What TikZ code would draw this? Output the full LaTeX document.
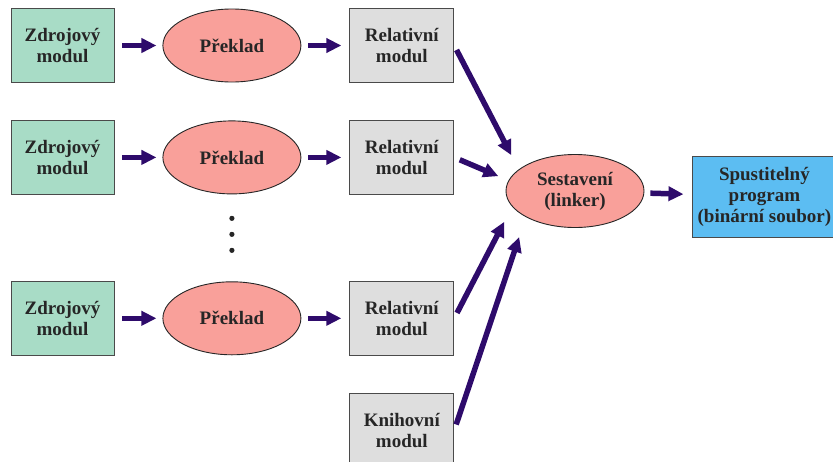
\documentclass[tikz,border=0pt]{standalone}
\usepackage{fontspec}
\setmainfont{Liberation Serif}
\usepackage{xcolor}
\usepackage{tikz}
\usetikzlibrary{positioning, arrows.meta, shapes.geometric, calc}
\definecolor{srcfill}{HTML}{A8DCC6}
\definecolor{trfill}{HTML}{F9A09A}
\definecolor{objfill}{HTML}{DEDEDE}
\definecolor{exefill}{HTML}{5CBDF2}
\definecolor{edge}{HTML}{4A4A4A}
\definecolor{arrowc}{HTML}{2E0B6B}
\definecolor{ink}{HTML}{262626}
\tikzset{
  lbl/.style     = {font=\fontsize{19}{21}\selectfont\bfseries, text=ink, align=center},
  src/.style     = {lbl, rectangle, draw=edge, line width=0.9pt, fill=srcfill,
                    minimum width=103pt, minimum height=74pt},
  obj/.style     = {lbl, rectangle, draw=edge, line width=0.9pt, fill=objfill,
                    minimum width=104pt, minimum height=74pt},
  trans/.style   = {lbl, ellipse, draw=ink, line width=0.9pt, fill=trfill,
                    minimum width=138pt, minimum height=73pt, inner sep=0pt},
  exe/.style     = {lbl, rectangle, draw=edge, line width=0.9pt, fill=exefill,
                    minimum width=143pt, minimum height=81pt},
  arr/.style     = {-{Triangle[length=15pt,width=14pt]}, line width=5.5pt, draw=arrowc},
}

\begin{document}
\begin{tikzpicture}[x=1pt, y=-1pt, node distance=37pt and 48pt]

  \useasboundingbox (0,0) rectangle (833,461);

  % sources and their translation
  \node[src]                       (z1) at (62.5,45.5) {Zdrojový\\modul};
  \node[src, below=of z1]          (z2) {Zdrojový\\modul};
  \node[src, below=86pt of z2]     (z3) {Zdrojový\\modul};

  \node[trans, right=of z1]        (p1) {Překlad};
  \node[trans, right=of z2]        (p2) {Překlad};
  \node[trans, right=of z3]        (p3) {Překlad};

  \node[obj, right=of p1]          (r1) {Relativní\\modul};
  \node[obj, right=of p2]          (r2) {Relativní\\modul};
  \node[obj, right=of p3]          (r3) {Relativní\\modul};
  \node[obj, below=of r3]          (lib) {Knihovní\\modul};

  \foreach \dy in {24,40,56}
    \fill[ink] ($(p2.south)+(0,\dy)$) circle (2.6pt);

  % linking
  \node[trans]                     (link) at (575,191) {Sestavení\\(linker)};
  \node[exe, right=of link, yshift=-5.5pt] (prog) {Spustitelný\\program\\(binární soubor)};

  \draw[arr, shorten <=8pt, shorten >=6pt] (z1) -- (p1);
  \draw[arr, shorten <=8pt, shorten >=6pt] (z2) -- (p2);
  \draw[arr, shorten <=8pt, shorten >=6pt] (z3) -- (p3);
  \draw[arr, shorten <=7pt, shorten >=8pt] (p1) -- (r1);
  \draw[arr, shorten <=7pt, shorten >=8pt] (p2) -- (r2);
  \draw[arr, shorten <=7pt, shorten >=8pt] (p3) -- (r3);

  \draw[arr, shorten <=5pt, shorten >=16pt] (r1.east) -- (link.159);
  \draw[arr, shorten <=6pt, shorten >=11pt] (r2.east) -- (link.171);
  \draw[arr, shorten <=6pt, shorten >=17pt] (r3.east) -- (link.194);
  \draw[arr, shorten <=6pt, shorten >=21pt] (lib.east) -- (link.208);
  \draw[arr, shorten <=6pt, shorten >=9pt]  (link) -- (prog);

\end{tikzpicture}
\end{document}
